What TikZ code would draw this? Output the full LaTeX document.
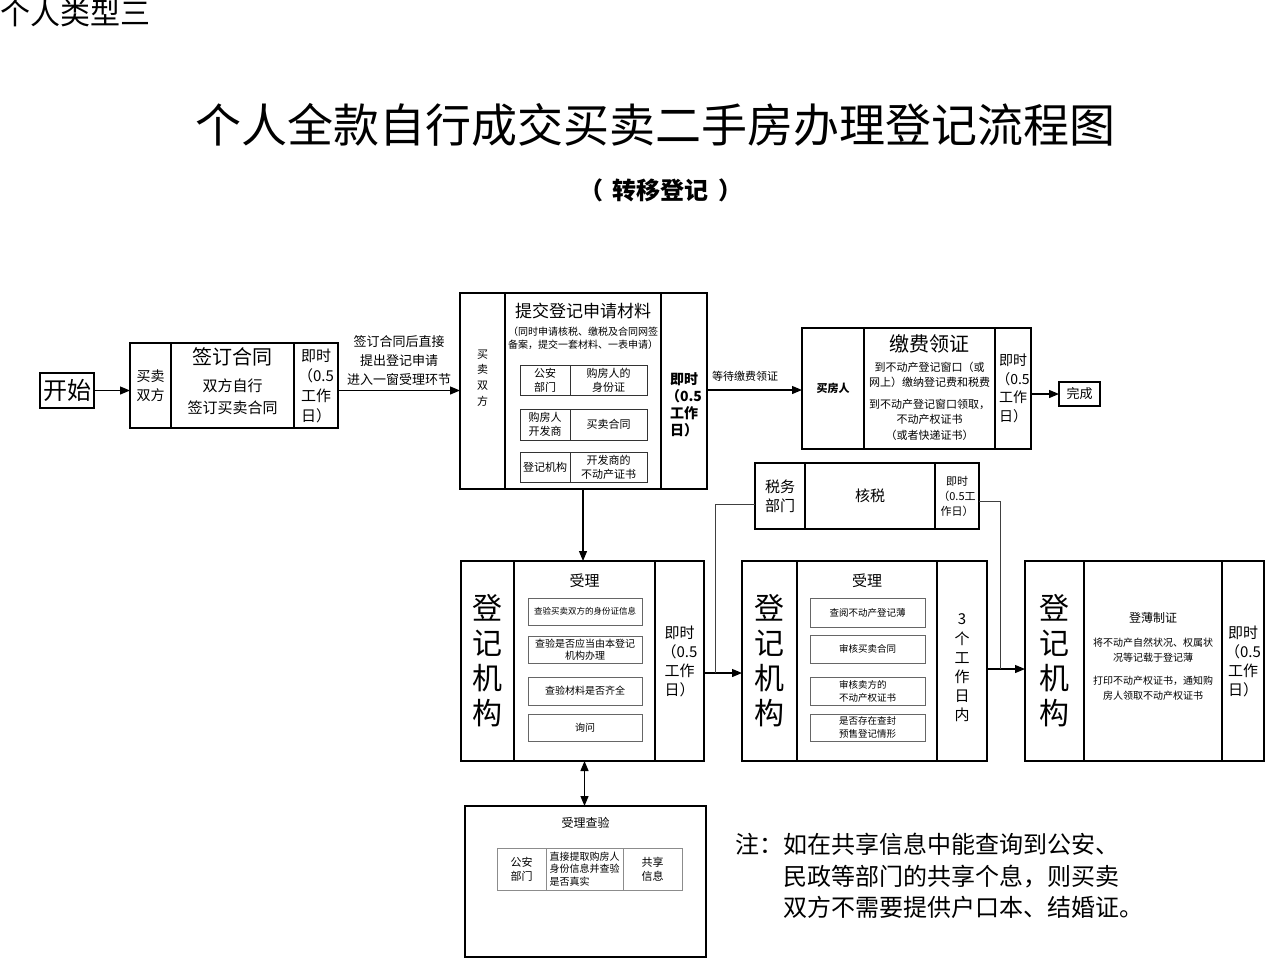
\documentclass[tikz,border=0pt]{standalone}
\usepackage{fontspec}
\setmainfont{Noto Sans CJK SC}
\usepackage{tikz}
\usetikzlibrary{arrows.meta,positioning}
\newcommand{\szpx}[2]{\fontsize{#1}{#2}\selectfont}
\tikzset{
  col/.style={draw,line width=1.1pt,inner sep=0pt,outer sep=0pt,align=center},
  cell/.style={draw=black!60,line width=0.7pt,inner sep=0pt,outer sep=0pt,align=center},
  flow/.style={line width=1.2pt,-{Triangle[length=10pt,width=8pt]}},
  link/.style={line width=1pt,black!75},
}

\begin{document}
\begin{tikzpicture}[x=1pt,y=-1pt]
  \useasboundingbox (0,0) rectangle (1269,958);
  % headings
  \node[anchor=west,inner sep=0pt,font=\szpx{30}{32}] (kind) at (0,13) {个人类型三};
  \node[font=\szpx{46}{50}] (title) at (655,125) {个人全款自行成交买卖二手房办理登记流程图};
  \node[font=\bfseries\szpx{24}{28}] (subtitle) at (661,190) {（\hspace{10pt}转移登记\hspace{10pt}）};

  % start and contract
  \node[col,minimum width=54pt,minimum height=35pt,font=\szpx{24}{28}] (start) at (67,390.5) {开始};
  \node[col,minimum width=41pt,minimum height=85pt,font=\szpx{14}{19}] (signL) at (150.5,385.5) {买卖\\双方};
  \node[col,minimum width=123pt,minimum height=85pt] (signM) at (232.5,385.5) {};
  \node[col,minimum width=44pt,minimum height=85pt,font=\szpx{15}{20}] (signR) at (316,385.5) {即时\\（0.5\\工作\\日）};
  \node[font=\szpx{20}{24}] (signT) at (232.5,357) {签订合同};
  \node[font=\szpx{15}{22},align=center] (signB) at (232.5,397) {双方自行\\签订买卖合同};
  \draw[flow] (start.east) -- (start.east -| signL.west);

  % submit materials
  \node[col,minimum width=45pt,minimum height=196pt] (subL) at (482.5,391) {};
  \node[col,minimum width=156pt,minimum height=196pt] (subM) at (583,391) {};
  \node[col,minimum width=46pt,minimum height=196pt] (subR) at (684,391) {};
  \node[font=\szpx{11}{15.7},align=center] (subWho) at (482.5,378) {买\\卖\\双\\方};
  \node[font=\bfseries\szpx{14}{17},align=center] (subTime) at (684,405) {即时\\（0.5\\工作\\日）};
  \node[font=\szpx{17}{20}] (subT) at (583,311) {提交登记申请材料};
  \node[font=\szpx{10}{13},align=center] (subB) at (583,338) {（同时申请核税、缴税及合同网签\\备案，提交一套材料、一表申请）};
  \node[cell,draw=black!80,minimum width=50pt,minimum height=30pt,font=\szpx{11}{14}] (doc1a) at (545,380) {公安\\部门};
  \node[cell,draw=black!80,minimum width=77pt,minimum height=30pt,font=\szpx{11}{14}] (doc1b) at (608.5,380) {购房人的\\身份证};
  \node[cell,draw=black!80,minimum width=50pt,minimum height=31pt,font=\szpx{11}{14}] (doc2a) at (545,424.5) {购房人\\开发商};
  \node[cell,draw=black!80,minimum width=77pt,minimum height=31pt,font=\szpx{11}{14}] (doc2b) at (608.5,424.5) {买卖合同};
  \node[cell,draw=black!80,minimum width=50pt,minimum height=30pt,font=\szpx{11}{14}] (doc3a) at (545,467) {登记机构};
  \node[cell,draw=black!80,minimum width=77pt,minimum height=30pt,font=\szpx{11}{14}] (doc3b) at (608.5,467) {开发商的\\不动产证书};
  \draw[flow] (signR.east |- start.east) -- (subL.west |- start.east)
    node[midway,above=4pt,inner sep=0pt,font=\szpx{13}{19},align=center] (signNote) {签订合同后直接\\提出登记申请\\进入一窗受理环节};

  % payment and certificate
  \node[col,minimum width=62pt,minimum height=121pt,font=\bfseries\szpx{11}{14}] (payL) at (833,388.5) {买房人};
  \node[col,minimum width=131pt,minimum height=121pt] (payM) at (929.5,388.5) {};
  \node[col,minimum width=36pt,minimum height=121pt,font=\szpx{14}{18.5}] (payR) at (1013,388.5) {即时\\（0.5\\工作\\日）};
  \node[font=\szpx{20}{24}] (payT) at (929.5,344) {缴费领证};
  \node[font=\szpx{11}{15},align=center] (payB1) at (929.5,374.5) {到不动产登记窗口（或\\网上）缴纳登记费和税费};
  \node[font=\szpx{11}{15.5},align=center] (payB2) at (929.5,419.5) {到不动产登记窗口领取，\\不动产权证书\\（或者快递证书）};
  \node[col,minimum width=41pt,minimum height=24pt,font=\szpx{13}{16}] (done) at (1079.5,394) {完成};
  \draw[flow] (subR.east |- 0,390) -- (payL.west |- 0,390)
    node[pos=0.4,above=8pt,inner sep=0pt,font=\szpx{11}{13}] (payNote) {等待缴费领证};
  \draw[flow] (payR.east |- done.west) -- (done.west);

  % tax
  \node[col,minimum width=50pt,minimum height=66pt,font=\szpx{15}{19}] (taxL) at (780,496) {税务\\部门};
  \node[col,minimum width=130pt,minimum height=66pt,font=\szpx{15}{19}] (taxM) at (870,496) {核税};
  \node[col,minimum width=44pt,minimum height=66pt,font=\szpx{11}{15}] (taxR) at (957,496) {即时\\（0.5工\\作日）};

  % acceptance
  \node[col,minimum width=53pt,minimum height=200pt,font=\szpx{30}{35}] (accL) at (487.5,661) {登\\记\\机\\构};
  \node[col,minimum width=141pt,minimum height=200pt] (accM) at (584.5,661) {};
  \node[col,minimum width=49pt,minimum height=200pt,font=\szpx{15}{19}] (accR) at (679.5,661) {即时\\（0.5\\工作\\日）};
  \node[font=\szpx{15}{18}] (accT) at (584.5,581) {受理};
  \node[cell,minimum width=114pt,minimum height=27pt,font=\szpx{8.5}{12}] (acc1) at (585,611.5) {查验买卖双方的身份证信息};
  \node[cell,minimum width=114pt,minimum height=27pt,font=\szpx{10}{12.5}] (acc2) at (585,649.5) {查验是否应当由本登记\\机构办理};
  \node[cell,minimum width=114pt,minimum height=28pt,font=\szpx{10}{12.5}] (acc3) at (585,691) {查验材料是否齐全};
  \node[cell,minimum width=114pt,minimum height=27pt,font=\szpx{10}{12.5}] (acc4) at (585,727.5) {询问};

  % review
  \node[col,minimum width=55pt,minimum height=200pt,font=\szpx{30}{35}] (chkL) at (769.5,661) {登\\记\\机\\构};
  \node[col,minimum width=140pt,minimum height=200pt] (chkM) at (867,661) {};
  \node[col,minimum width=50pt,minimum height=200pt] (chkR) at (962,661) {};
  \node[font=\szpx{15}{19.2},align=center] (chkTime) at (962,668) {3\\个\\工\\作\\日\\内};
  \node[font=\szpx{15}{18}] (chkT) at (867,581) {受理};
  \node[cell,minimum width=115pt,minimum height=29pt,font=\szpx{9.5}{13}] (chk1) at (867.5,612.5) {查阅不动产登记薄};
  \node[cell,minimum width=115pt,minimum height=28pt,font=\szpx{9.5}{13}] (chk2) at (867.5,649) {审核买卖合同};
  \node[cell,minimum width=115pt,minimum height=28pt,font=\szpx{9.5}{13},align=left] (chk3) at (867.5,691) {审核卖方的\\不动产权证书};
  \node[cell,minimum width=115pt,minimum height=27pt,font=\szpx{9.5}{13},align=left] (chk4) at (867.5,727.5) {是否存在查封\\预售登记情形};

  % registration and certificate
  \node[col,minimum width=59pt,minimum height=200pt,font=\szpx{30}{35}] (regL) at (1054.5,661) {登\\记\\机\\构};
  \node[col,minimum width=138pt,minimum height=200pt] (regM) at (1153,661) {};
  \node[col,minimum width=42pt,minimum height=200pt,font=\szpx{15}{19}] (regR) at (1243,661) {即时\\（0.5\\工作\\日）};
  \node[font=\szpx{12}{15}] (regT) at (1153,618) {登薄制证};
  \node[font=\szpx{10}{15},align=center] (regB1) at (1153,650) {将不动产自然状况、权属状\\况等记载于登记薄};
  \node[font=\szpx{10}{15},align=center] (regB2) at (1153,688.5) {打印不动产权证书，通知购\\房人领取不动产权证书};

  % verification
  \node[col,minimum width=241pt,minimum height=151pt] (verify) at (585.5,881.5) {};
  \node[font=\szpx{12}{15}] (verT) at (585.5,823) {受理查验};
  \node[cell,draw=black!45,minimum width=49pt,minimum height=42pt,font=\szpx{11}{14}] (ver1) at (521.5,869) {公安\\部门};
  \node[cell,draw=black!45,minimum width=77pt,minimum height=42pt,font=\szpx{10}{12.5},align=left] (ver2) at (584.5,869) {直接提取购房人\\身份信息并查验\\是否真实};
  \node[cell,draw=black!45,minimum width=59pt,minimum height=42pt,font=\szpx{11}{14}] (ver3) at (652.5,869) {共享\\信息};

  % connectors
  \coordinate (j1) at (715,673);
  \coordinate (j2) at (715,504);
  \coordinate (j3) at (1000,669);
  \coordinate (j4) at (1000,501);
  \draw[flow] (subM.south) -- (subM.south |- accM.north);
  \draw[flow] (accR.east |- j1) -- (chkL.west |- j1);
  \draw[link] (j1) -- (j2) -- (j2 -| taxL.west);
  \draw[flow] (chkR.east |- j3) -- (regL.west |- j3);
  \draw[link] (taxR.east |- j4) -- (j4) -- (j3);
  \draw[flow,{Triangle[length=10pt,width=8pt]}-{Triangle[length=10pt,width=8pt]}] (accM.south) -- (accM.south |- verify.north);

  % note
  \node[anchor=north west,inner sep=0pt,align=left,font=\szpx{24}{31.5}] (note) at (735,833)
    {注：如在共享信息中能查询到公安、\\\phantom{注：}民政等部门的共享个息，则买卖\\\phantom{注：}双方不需要提供户口本、结婚证。};
\end{tikzpicture}
\end{document}
